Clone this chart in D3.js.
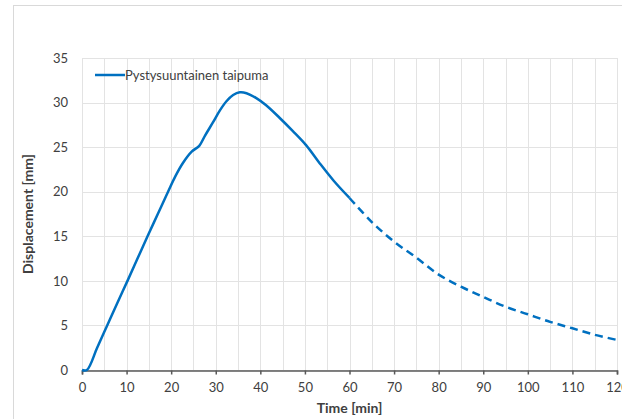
<!DOCTYPE html>
<html>
<head>
<meta charset="utf-8">
<script src="https://cdn.jsdelivr.net/npm/d3@7"></script>
<style>
  body { margin: 0; background: #fff; }
  text { font-family: Lato, "Open Sans", sans-serif; fill: #404040; }
</style>
</head>
<body>
<script>
// measured series (solid part = measured, dashed = continuation)
var solidTime = [0, 1.1, 3.4, 5.65, 7.9, 10.2, 12.45, 14.7, 17.0, 19.3, 20.9, 22.6, 24.6, 26.3, 27.6, 29.4, 30.9, 32.4, 33.9, 35.4, 36.9, 39.1, 41.3, 44.3, 47.3, 50.3, 53.3, 56.5, 60];
var solidValue = [0, 0, 2.5, 5, 7.5, 10, 12.5, 15, 17.5, 20, 21.7, 23.2, 24.5, 25.15, 26.3, 27.8, 29.1, 30.15, 30.85, 31.15, 31.05, 30.5, 29.7, 28.3, 26.8, 25.2, 23.2, 21.2, 19.3];
var dashTime = [60, 65, 70, 75, 80, 85, 90, 95, 100, 105, 110, 115, 120];
var dashValue = [19.3, 16.6, 14.4, 12.6, 10.7, 9.35, 8.2, 7.1, 6.25, 5.4, 4.68, 3.95, 3.37];
var xTicks = [0, 10, 20, 30, 40, 50, 60, 70, 80, 90, 100, 110, 120];
var yTicks = [0, 5, 10, 15, 20, 25, 30, 35];
var legendLabel = "Pystysuuntainen taipuma";

var W = 622, H = 419;
var margin = { left: 82, top: 58, right: 5, bottom: 49 };
var blue = "#0070c0";

var svg = d3.select("body").append("svg")
    .attr("width", W)
    .attr("height", H);

// chart frame
svg.append("rect")
    .attr("x", 13.5).attr("y", 5.5)
    .attr("width", W).attr("height", H)
    .attr("fill", "none").attr("stroke", "#d9d9d9");

var x = d3.scaleLinear().domain([0, 120]).range([margin.left, W - margin.right]);
var y = d3.scaleLinear().domain([0, 35]).range([H - margin.bottom, margin.top]);

// gridlines
var g = svg.append("g");
g.selectAll(".vg").data(d3.range(0, 121, 5)).enter().append("line")
    .attr("x1", function (d) { return Math.round(x(d)) + 0.5; })
    .attr("x2", function (d) { return Math.round(x(d)) + 0.5; })
    .attr("y1", y(35)).attr("y2", y(0))
    .attr("stroke", "#e3e3e3");
g.selectAll(".hg").data(yTicks).enter().append("line")
    .attr("x1", x(0)).attr("x2", x(120))
    .attr("y1", function (d) { return Math.round(y(d)) + 0.5; })
    .attr("y2", function (d) { return Math.round(y(d)) + 0.5; })
    .attr("stroke", "#e3e3e3");

// x axis
var xAxis = svg.append("g")
    .attr("transform", "translate(0," + (Math.round(y(0)) + 0.5) + ")")
    .call(d3.axisBottom(x).tickValues(xTicks).tickSize(4).tickPadding(8));
xAxis.select(".domain").attr("stroke", "#595959").attr("stroke-width", 1.5);
xAxis.selectAll(".tick line").attr("stroke", "#595959").attr("stroke-width", 1.5);
xAxis.selectAll("text").attr("font-size", 13).attr("fill", "#404040")
    .style("font-family", "Lato, sans-serif");

// y axis
var yAxis = svg.append("g")
    .attr("transform", "translate(" + x(0) + ",0)")
    .call(d3.axisLeft(y).tickValues(yTicks).tickSize(0).tickPadding(14));
yAxis.select(".domain").remove();
yAxis.selectAll("text").attr("font-size", 13).attr("fill", "#404040")
    .style("font-family", "Lato, sans-serif");

// lines
var line = d3.line()
    .x(function (d) { return x(d[0]); })
    .y(function (d) { return y(d[1]); })
    .curve(d3.curveCatmullRom.alpha(0.5));

svg.append("path")
    .datum(d3.zip(solidTime, solidValue))
    .attr("d", line)
    .attr("fill", "none").attr("stroke", blue).attr("stroke-width", 2.5)
    .attr("stroke-linejoin", "round");

svg.append("path")
    .datum(d3.zip(dashTime, dashValue))
    .attr("d", line)
    .attr("fill", "none").attr("stroke", blue).attr("stroke-width", 2.5)
    .attr("stroke-dasharray", "8,5");

// legend
svg.append("line")
    .attr("x1", 95).attr("x2", 125).attr("y1", 75).attr("y2", 75)
    .attr("stroke", blue).attr("stroke-width", 2.5);
svg.append("text")
    .attr("x", 125).attr("y", 79.5)
    .attr("font-size", 13)
    .text(legendLabel);

// axis titles
svg.append("text")
    .attr("x", (x(0) + x(120)) / 2).attr("y", 413)
    .attr("text-anchor", "middle")
    .attr("font-size", 14).attr("font-weight", "bold")
    .attr("fill", "#000")
    .text("Time [min]");

svg.append("text")
    .attr("transform", "translate(33," + y(17.5) + ") rotate(-90)")
    .attr("text-anchor", "middle")
    .attr("font-size", 14).attr("font-weight", "bold")
    .text("Displacement [mm]");
</script>
</body>
</html>
